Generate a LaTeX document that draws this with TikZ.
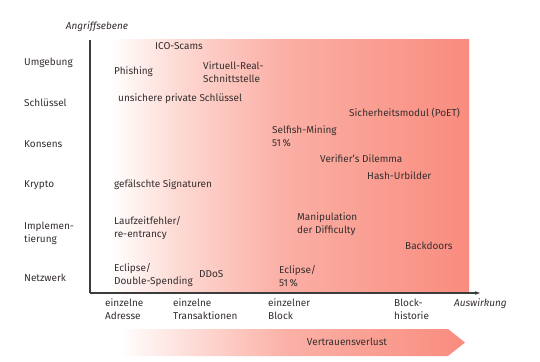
\documentclass[tikz,border=0pt]{standalone}
\usepackage{fontspec}
\setmainfont{Fira Sans}
\usetikzlibrary{arrows.meta}
\definecolor{txt}{HTML}{352E2E}
\definecolor{axis}{HTML}{3C3C3C}
\definecolor{pinkA}{HTML}{FDD8D2}
\definecolor{pinkB}{HTML}{FBB0A6}
\definecolor{pinkC}{HTML}{F98C7E}
\pgfdeclarehorizontalshading{bgsh}{100bp}{color(0bp)=(white); color(25bp)=(white); color(27.6bp)=(white); color(37bp)=(pinkA); color(50bp)=(pinkB); color(75bp)=(pinkC); color(100bp)=(pinkC)}
\pgfdeclarehorizontalshading{arsh}{100bp}{color(0bp)=(white); color(25bp)=(white); color(28bp)=(white); color(39bp)=(pinkA); color(51bp)=(pinkB); color(75bp)=(pinkC); color(100bp)=(pinkC)}
\tikzset{
  lbl/.style={anchor=west, align=left, text=txt, inner sep=0pt, font=\fontsize{10}{13}\selectfont},
  ital/.style={lbl, font=\fontsize{10}{13}\selectfont\itshape},
  axisline/.style={draw=axis, line width=1.2pt},
}
\begin{document}
\begin{tikzpicture}[x=1pt,y=-1pt]
\useasboundingbox (0,0) rectangle (540,361);
% background gradient
\shade[shading=bgsh] (90,40) rectangle (469,293);
% bottom arrow band
\shade[shading=arsh] (97,329) -- (448,329) -- (465,342.5) -- (448,356) -- (97,356) -- cycle;
% axes
\coordinate (o) at (90,293);
\coordinate (top) at (90,40);
\coordinate (xend) at (480,293);
\draw[axisline] (top) -- (o);
\draw[axisline, -{Stealth[length=5pt,width=3.5pt]}] (o) -- (xend);
% axis titles
\node[ital, anchor=center] (ay) at (97,27) {Angriffsebene};
\node[ital] (ax) at (454,303.5) {Auswirkung};
% row labels
\node[lbl] (r1) at (24,63) {Umgebung};
\node[lbl] (r2) at (24,103) {Schlüssel};
\node[lbl] (r3) at (24,144) {Konsens};
\node[lbl] (r4) at (24,185) {Krypto};
\node[lbl] (r5) at (24,233) {Implemen-\\tierung};
\node[lbl] (r6) at (24,278) {Netzwerk};
% column labels
\node[lbl] (c1) at (105,309.5) {einzelne\\Adresse};
\node[lbl] (c2) at (173,309.5) {einzelne\\Transaktionen};
\node[lbl] (c3) at (268,309.5) {einzelner\\Block};
\node[lbl] (c4) at (394,309.5) {Block-\\historie};
% attacks
\node[lbl, anchor=center] (a1) at (179,46) {ICO-Scams};
\node[lbl] (a2) at (114,72) {Phishing};
\node[lbl] (a3) at (203,72.5) {Virtuell-Real-\\Schnittstelle};
\node[lbl] (a4) at (118,99) {unsichere private Schlüssel};
\node[lbl] (a5) at (349,113) {Sicherheitsmodul (PoET)};
\node[lbl] (a6) at (272,136.5) {Selfish-Mining\\51\,\%};
\node[lbl] (a7) at (320,159) {Verifier’s Dilemma};
\node[lbl] (a8) at (367,176) {Hash-Urbilder};
\node[lbl] (a9) at (114,185) {gefälschte Signaturen};
\node[lbl] (a10) at (114,228) {Laufzeitfehler/\\re-entrancy};
\node[lbl] (a11) at (297,224.5) {Manipulation\\der Difficulty};
\node[lbl] (a12) at (405,246) {Backdoors};
\node[lbl] (a13) at (114,275.5) {Eclipse/\\Double-Spending};
\node[lbl] (a14) at (199,274) {DDoS};
\node[lbl] (a15) at (279,276) {Eclipse/\\51\,\%};
\node[lbl, anchor=center] (vv) at (347,342) {Vertrauensverlust};
\end{tikzpicture}
\end{document}
